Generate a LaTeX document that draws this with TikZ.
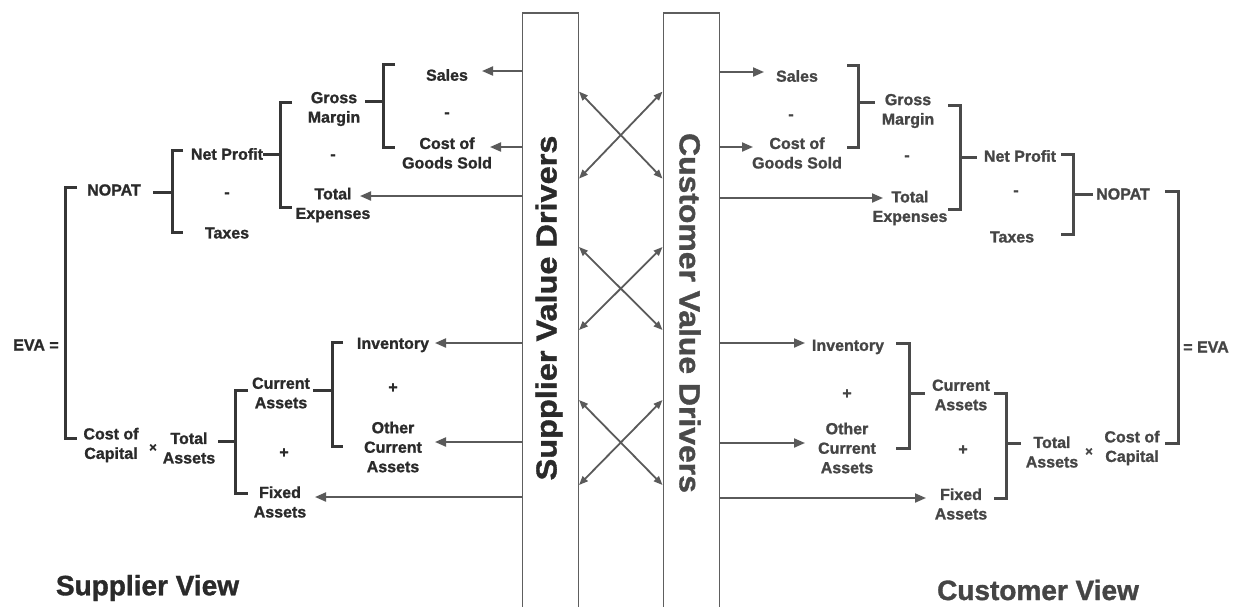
\documentclass[tikz,border=0pt]{standalone}
\usepackage{fontspec}
\usepackage{graphicx}
\setmainfont{Liberation Sans}[BoldFeatures={FakeBold=1.2}]
\usetikzlibrary{arrows.meta}

\definecolor{inkL}{HTML}{2A2A2A}
\definecolor{inkR}{HTML}{454545}
\definecolor{lineL}{HTML}{363636}
\definecolor{lineR}{HTML}{4A4A4A}
\definecolor{arrowgray}{HTML}{5A5A5A}
\definecolor{boxgray}{HTML}{5E5E5E}

\tikzset{
  lbl/.style={font=\fontsize{16}{19.5}\selectfont\bfseries, align=center, inner sep=0pt},
  lblL/.style={lbl, text=inkL},
  lblR/.style={lbl, text=inkR},
  brkL/.style={line width=3pt, draw=lineL},
  brkR/.style={line width=3pt, draw=lineR},
  feed/.style={line width=2pt, draw=arrowgray, -{Triangle[length=11pt,width=9pt]}},
  cross/.style={line width=1.8pt, draw=arrowgray,
    {Triangle[length=9pt,width=7pt]}-{Triangle[length=9pt,width=7pt]}},
  driverbox/.style={draw=boxgray, line width=1.5pt, anchor=north west,
    inner sep=0pt, minimum width=56pt, minimum height=620pt},
  drivertext/.style={font=\fontsize{29}{30}\selectfont\bfseries, inner sep=0pt},
  viewtitle/.style={font=\fontsize{28}{30}\selectfont\bfseries, inner sep=0pt},
}

% square bracket: style, x of the spine, top y, bottom y, x where the ticks end
\newcommand\bracketpath[5]{\draw[#1] (#5,#3) -- (#2,#3) -- (#2,#4) -- (#5,#4);}

\begin{document}
\begin{tikzpicture}[x=1pt,y=-1pt]
\useasboundingbox (0,0) rectangle (1239,606);
\clip (0,0) rectangle (1239,606);
\fill[white] (0,0) rectangle (1239,606);

% ---------- value driver columns ----------
\node[driverbox] (sbox) at (521.5,12) {};
\node[driverbox] (cbox) at (662.5,12) {};
\node[drivertext, rotate=90, text=inkL] (sdrv) at (549,308)
  {\scalebox{1.12}[1]{Supplier Value Drivers}};
\node[drivertext, rotate=-90, text=inkL!85!white] (cdrv) at (690,313)
  {\scalebox{1.10}[1]{Customer Value Drivers}};

% links between the two columns
\coordinate (ya) at (0,91.6);  \coordinate (yb) at (0,178.6);
\coordinate (yc) at (0,247);   \coordinate (yd) at (0,330);
\coordinate (ye) at (0,400);   \coordinate (yf) at (0,485);
\draw[cross] (sbox.east |- ya) -- (cbox.west |- yb);
\draw[cross] (sbox.east |- yb) -- (cbox.west |- ya);
\draw[cross] (sbox.east |- yc) -- (cbox.west |- yd);
\draw[cross] (sbox.east |- yd) -- (cbox.west |- yc);
\draw[cross] (sbox.east |- ye) -- (cbox.west |- yf);
\draw[cross] (sbox.east |- yf) -- (cbox.west |- ye);

% ---------- supplier side ----------
\node[lblL] (Lsales) at (447,75) {Sales};
\node[lblL] (Lm1)    at (447,115) {-};
\node[lblL] (Lcogs)  at (447,153) {Cost of\\Goods Sold};
\node[lblL] (Lgm)    at (334,109) {Gross\\Margin};
\node[lblL] (Lm2)    at (333,157) {-};
\node[lblL] (Lte)    at (333,205) {Total\\Expenses};
\node[lblL] (Lnp)    at (227,154) {Net Profit};
\node[lblL] (Lm3)    at (227,195) {-};
\node[lblL] (Ltax)   at (227,233) {Taxes};
\node[lblL] (Lnopat) at (114,190) {NOPAT};
\node[lblL] (Leva)   at (36,345) {EVA =};
\node[lblL] (Lcoc)   at (111,445) {Cost of\\Capital};
\node[lblL] (Lx)     at (153,448) {\fontsize{13}{13}\selectfont ×};
\node[lblL] (Lta)    at (189,448) {Total\\Assets};
\node[lblL] (Lca)    at (281,393) {Current\\Assets};
\node[lblL] (Linv)   at (393,345) {Inventory};
\node[lblL] (Lp1)    at (393,388) {+};
\node[lblL] (Loca)   at (393,447) {Other\\Current\\Assets};
\node[lblL] (Lp2)    at (284,453) {+};
\node[lblL] (Lfa)    at (280,502) {Fixed\\Assets};

\bracketpath{brkL}{383}{64}{147}{395}
\bracketpath{brkL}{280}{102}{207}{292}
\bracketpath{brkL}{172}{150}{232}{183}
\bracketpath{brkL}{65}{187}{438}{77}
\bracketpath{brkL}{235}{390}{493}{248}
\bracketpath{brkL}{332}{342}{446}{343}

\coordinate (cLgm) at (383,101);
\coordinate (cLnp) at (280,154);
\coordinate (cLnopat) at (172,192);
\coordinate (cLta) at (235,441);
\coordinate (cLca) at (332,390);
\draw[brkL, shorten <=5pt] (Lgm.east |- cLgm) -- (cLgm);
\draw[brkL] (Lnp.east |- cLnp) -- (cLnp);
\draw[brkL, shorten <=12pt] (Lnopat.east |- cLnopat) -- (cLnopat);
\draw[brkL, shorten <=3pt] (Lta.east |- cLta) -- (cLta);
\draw[brkL, shorten <=3pt] (Lca.east |- cLca) -- (cLca);

\coordinate (tLsales) at (482,71);
\coordinate (tLcogs)  at (490,147);
\coordinate (tLte)    at (360,196);
\coordinate (tLinv)   at (435,343);
\coordinate (tLoca)   at (435,442);
\coordinate (tLfa)    at (315,497);
\draw[feed] (sbox.west |- tLsales) -- (tLsales);
\draw[feed] (sbox.west |- tLcogs) -- (tLcogs);
\draw[feed] (sbox.west |- tLte) -- (tLte);
\draw[feed] (sbox.west |- tLinv) -- (tLinv);
\draw[feed] (sbox.west |- tLoca) -- (tLoca);
\draw[feed] (sbox.west |- tLfa) -- (tLfa);

\node[viewtitle, text=inkL] (sview) at (147.5,588) {Supplier View};

% ---------- customer side ----------
\node[lblR] (Rsales) at (797,76) {Sales};
\node[lblR] (Rm1)    at (791,117) {-};
\node[lblR] (Rcogs)  at (797,153) {Cost of\\Goods Sold};
\node[lblR] (Rgm)    at (908,111) {Gross\\Margin};
\node[lblR] (Rm2)    at (907,158) {-};
\node[lblR] (Rte)    at (910,208) {Total\\Expenses};
\node[lblR] (Rnp)    at (1020,156) {Net Profit};
\node[lblR] (Rm3)    at (1016,193) {-};
\node[lblR] (Rtax)   at (1012,237) {Taxes};
\node[lblR] (Rnopat) at (1123,194) {NOPAT};
\node[lblR] (Reva)   at (1206,347) {= EVA};
\node[lblR] (Rcoc)   at (1132,448) {Cost of\\Capital};
\node[lblR] (Rx)     at (1089,452) {\fontsize{13}{13}\selectfont ×};
\node[lblR] (Rta)    at (1052,452) {Total\\Assets};
\node[lblR] (Rca)    at (961,395) {Current\\Assets};
\node[lblR] (Rinv)   at (848,347) {Inventory};
\node[lblR] (Rp1)    at (847,394) {+};
\node[lblR] (Roca)   at (847,448) {Other\\Current\\Assets};
\node[lblR] (Rp2)    at (963,450) {+};
\node[lblR] (Rfa)    at (961,504) {Fixed\\Assets};

\bracketpath{brkR}{858}{65}{147}{847}
\bracketpath{brkR}{960}{105}{209}{948}
\bracketpath{brkR}{1073}{154}{234}{1061}
\bracketpath{brkR}{1178}{191}{443}{1165}
\bracketpath{brkR}{1006}{393}{498}{994}
\bracketpath{brkR}{909}{343}{448}{896}

\coordinate (cRgm) at (858,102);
\coordinate (cRnp) at (960,157);
\coordinate (cRnopat) at (1073,194);
\coordinate (cRta) at (1006,443);
\coordinate (cRca) at (909,393);
\draw[brkR, shorten >=7pt] (cRgm) -- (Rgm.west |- cRgm);
\draw[brkR, shorten >=7pt] (cRnp) -- (Rnp.west |- cRnp);
\draw[brkR, shorten >=3pt] (cRnopat) -- (Rnopat.west |- cRnopat);
\draw[brkR, shorten >=5pt] (cRta) -- (Rta.west |- cRta);
\draw[brkR, shorten >=7pt] (cRca) -- (Rca.west |- cRca);

\coordinate (tRsales) at (764,72);
\coordinate (tRcogs)  at (753,147);
\coordinate (tRte)    at (883,198);
\coordinate (tRinv)   at (805,343);
\coordinate (tRoca)   at (805,443);
\coordinate (tRfa)    at (926,498);
\draw[feed] (cbox.east |- tRsales) -- (tRsales);
\draw[feed] (cbox.east |- tRcogs) -- (tRcogs);
\draw[feed] (cbox.east |- tRte) -- (tRte);
\draw[feed] (cbox.east |- tRinv) -- (tRinv);
\draw[feed] (cbox.east |- tRoca) -- (tRoca);
\draw[feed] (cbox.east |- tRfa) -- (tRfa);

\node[viewtitle, text=inkR] (cview) at (1038,590) {Customer View};
\end{tikzpicture}
\end{document}
